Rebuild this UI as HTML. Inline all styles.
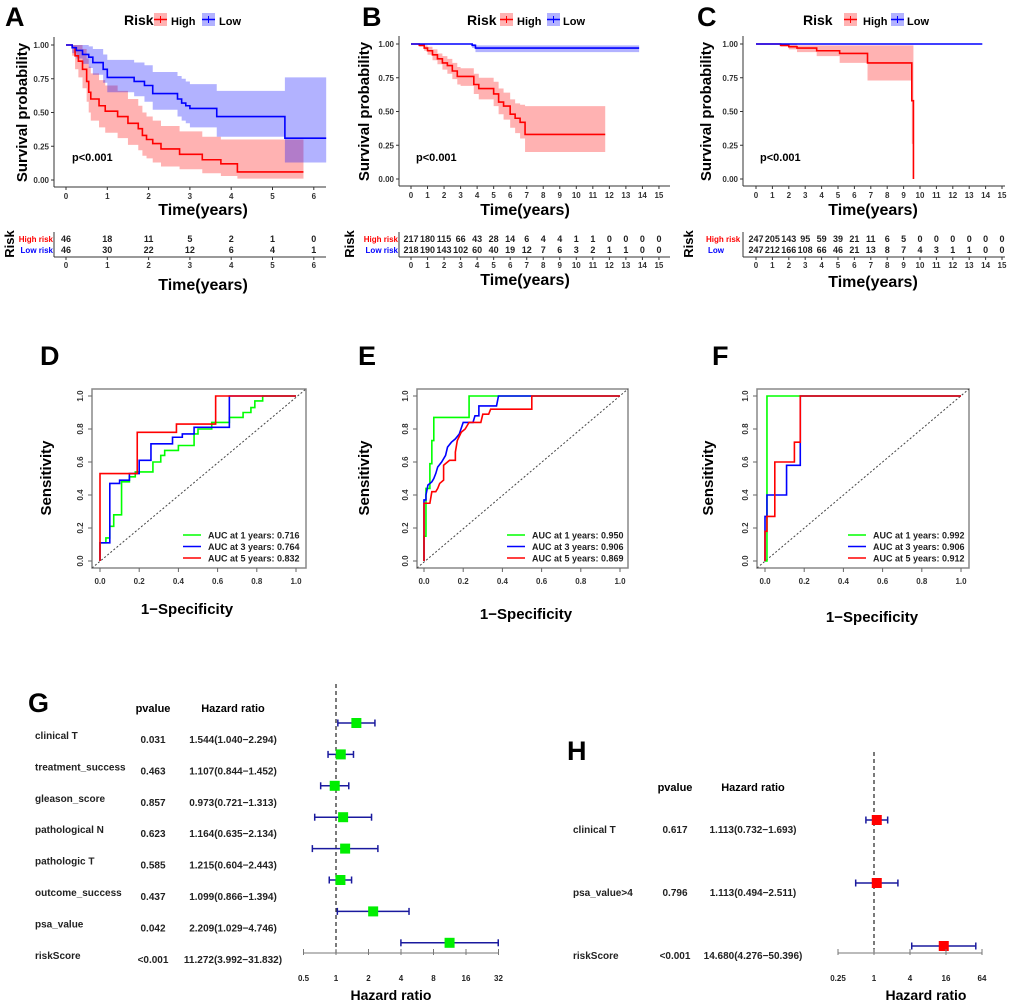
<!DOCTYPE html>
<html><head><meta charset="utf-8"><style>
html,body{margin:0;padding:0;background:#fff;width:1020px;height:1004px;overflow:hidden}
svg text{font-family:"Liberation Sans",Arial,sans-serif;font-weight:bold}
</style></head><body>
<svg id="fig" width="1020" height="1004" viewBox="0 0 1020 1004" xmlns="http://www.w3.org/2000/svg"></svg>
<script>
// ---------- KM data ----------
const aHighT=[0,0.15,0.22,0.3,0.4,0.5,0.55,0.6,0.8,0.95,1.25,1.5,1.75,1.85,1.95,2.1,2.3,2.5,2.75,3.3,3.75,4.15,5.75];
const aHighS=[1,0.98,0.92,0.88,0.82,0.73,0.65,0.60,0.55,0.51,0.47,0.42,0.38,0.33,0.30,0.27,0.23,0.23,0.19,0.15,0.12,0.06,0.06];
const aHighLo=[1,0.92,0.82,0.76,0.68,0.58,0.50,0.44,0.39,0.35,0.31,0.26,0.22,0.18,0.16,0.13,0.10,0.10,0.08,0.05,0.03,0.01,0.01];
const aHighHi=[1,1,1,1,0.97,0.90,0.84,0.79,0.74,0.70,0.66,0.60,0.55,0.50,0.47,0.44,0.40,0.40,0.36,0.32,0.30,0.30,0.30];
const aLowT=[0,0.15,0.25,0.4,0.55,0.65,0.9,1.0,1.65,1.9,2.1,2.7,2.8,2.9,3.0,3.65,5.3,6.3];
const aLowS=[1,0.98,0.96,0.93,0.91,0.87,0.82,0.76,0.73,0.70,0.64,0.60,0.57,0.55,0.53,0.47,0.31,0.31];
const aLowLo=[1,0.94,0.90,0.86,0.83,0.78,0.72,0.65,0.62,0.58,0.52,0.47,0.44,0.42,0.39,0.32,0.13,0.13];
const aLowHi=[1,1,1,1,0.99,0.97,0.93,0.89,0.87,0.85,0.80,0.77,0.75,0.73,0.71,0.66,0.76,0.76];
const bHighT=[0,0.5,0.8,1.0,1.3,1.6,1.9,2.2,2.5,2.8,3.0,3.8,4.1,5.0,5.3,5.6,6.0,6.3,6.6,6.9,11.75];
const bHighS=[1,0.99,0.97,0.95,0.92,0.89,0.86,0.84,0.80,0.76,0.76,0.70,0.67,0.63,0.57,0.54,0.48,0.45,0.42,0.33,0.33];
const bHighLo=[1,0.98,0.95,0.92,0.88,0.85,0.81,0.78,0.74,0.70,0.69,0.63,0.59,0.54,0.48,0.44,0.38,0.34,0.30,0.20,0.20];
const bHighHi=[1,1,0.99,0.98,0.96,0.93,0.91,0.89,0.86,0.83,0.82,0.78,0.75,0.72,0.67,0.64,0.59,0.56,0.55,0.54,0.54];
const bLowT=[0,3.7,3.9,13.8];
const bLowS=[1,0.99,0.97,0.97];
const bLowLo=[1,0.97,0.94,0.94];
const bLowHi=[1,1,0.99,0.99];
const cHighT=[0,1.5,2.0,2.5,3.7,5.1,6.8,9.5,9.6];
const cHighS=[1,0.99,0.98,0.97,0.95,0.93,0.86,0.58,0];
const cHighLo=[1,0.98,0.96,0.94,0.91,0.86,0.73,0.26,0];
const cHighHi=[1,1,1,0.99,0.99,0.99,0.99,0.99,0];
const cLowT=[0,13.8];
const cLowS=[1,1];
const cLowLo=[1,1];
const cLowHi=[1,1];
const aRiskHigh=[46,18,11,5,2,1,0];
const aRiskLow=[46,30,22,12,6,4,1];
const bRiskHigh=[217,180,115,66,43,28,14,6,4,4,1,1,0,0,0,0];
const bRiskLow=[218,190,143,102,60,40,19,12,7,6,3,2,1,1,0,0];
const cRiskHigh=[247,205,143,95,59,39,21,11,6,5,0,0,0,0,0,0];
const cRiskLow=[247,212,166,108,66,46,21,13,8,7,4,3,1,1,0,0];
const survTicks=[0,0.25,0.5,0.75,1];
const survTickLabels=["0.00","0.25","0.50","0.75","1.00"];
// ---------- ROC data ----------
const dGreen=[[0,0],[0,0.11],[0.03,0.11],[0.03,0.14],[0.05,0.14],[0.05,0.21],[0.07,0.21],[0.07,0.28],[0.11,0.28],[0.11,0.48],[0.15,0.48],[0.15,0.51],[0.18,0.51],[0.18,0.54],[0.27,0.54],[0.27,0.60],[0.31,0.60],[0.31,0.64],[0.33,0.64],[0.33,0.67],[0.40,0.67],[0.40,0.70],[0.48,0.70],[0.48,0.77],[0.50,0.77],[0.50,0.80],[0.57,0.80],[0.57,0.84],[0.66,0.84],[0.66,0.87],[0.73,0.87],[0.73,0.90],[0.77,0.90],[0.77,0.93],[0.79,0.93],[0.79,0.97],[0.83,0.97],[0.83,1],[1,1]];
const dBlue=[[0,0],[0,0.11],[0.05,0.11],[0.05,0.47],[0.10,0.47],[0.10,0.49],[0.15,0.49],[0.15,0.53],[0.20,0.53],[0.20,0.61],[0.26,0.61],[0.26,0.71],[0.37,0.71],[0.37,0.75],[0.42,0.75],[0.42,0.77],[0.48,0.77],[0.48,0.81],[0.66,0.81],[0.66,1],[1,1]];
const dRed=[[0,0],[0,0.53],[0.19,0.53],[0.19,0.78],[0.39,0.78],[0.39,0.83],[0.59,0.83],[0.59,1],[1,1]];
const eGreen=[[0,0],[0,0.15],[0.01,0.15],[0.01,0.44],[0.03,0.44],[0.03,0.59],[0.04,0.59],[0.04,0.73],[0.05,0.73],[0.05,0.87],[0.23,0.87],[0.23,1],[1,1]];
const eBlue=[[0,0],[0,0.37],[0.01,0.37],[0.01,0.40],[0.02,0.46],[0.04,0.48],[0.05,0.50],[0.06,0.53],[0.07,0.57],[0.09,0.60],[0.11,0.64],[0.12,0.69],[0.14,0.72],[0.16,0.74],[0.18,0.77],[0.20,0.84],[0.25,0.84],[0.26,0.88],[0.28,0.88],[0.28,0.94],[0.37,0.94],[0.38,1],[1,1]];
const eRed=[[0,0],[0,0.35],[0.03,0.35],[0.04,0.42],[0.06,0.42],[0.07,0.44],[0.08,0.47],[0.10,0.49],[0.10,0.58],[0.13,0.61],[0.16,0.61],[0.16,0.66],[0.17,0.73],[0.19,0.78],[0.21,0.80],[0.23,0.84],[0.29,0.84],[0.30,0.89],[0.33,0.89],[0.34,0.92],[0.55,0.92],[0.55,1],[1,1]];
const fGreen=[[0,0],[0.01,0],[0.01,1],[1,1]];
const fBlue=[[0,0],[0,0.27],[0.01,0.27],[0.01,0.40],[0.11,0.40],[0.11,0.58],[0.18,0.58],[0.18,1],[1,1]];
const fRed=[[0,0],[0,0.18],[0.01,0.18],[0.01,0.27],[0.05,0.27],[0.05,0.60],[0.15,0.60],[0.15,0.72],[0.18,0.72],[0.18,1],[1,1]];
const dAuc=["AUC at 1 years: 0.716","AUC at 3 years: 0.764","AUC at 5 years: 0.832"];
const eAuc=["AUC at 1 years: 0.950","AUC at 3 years: 0.906","AUC at 5 years: 0.869"];
const fAuc=["AUC at 1 years: 0.992","AUC at 3 years: 0.906","AUC at 5 years: 0.912"];
const rocTicks=[0,0.2,0.4,0.6,0.8,1];
const rocTickLabels=["0.0","0.2","0.4","0.6","0.8","1.0"];
// ---------- Forest data ----------
const gNames=["clinical T","treatment_success","gleason_score","pathological N","pathologic T","outcome_success","psa_value","riskScore"];
const gP=["0.031","0.463","0.857","0.623","0.585","0.437","0.042","<0.001"];
const gHrText=["1.544(1.040\u22122.294)","1.107(0.844\u22121.452)","0.973(0.721\u22121.313)","1.164(0.635\u22122.134)","1.215(0.604\u22122.443)","1.099(0.866\u22121.394)","2.209(1.029\u22124.746)","11.272(3.992\u221231.832)"];
const gHr=[1.544,1.107,0.973,1.164,1.215,1.099,2.209,11.272];
const gLo=[1.040,0.844,0.721,0.635,0.604,0.866,1.029,3.992];
const gHi=[2.294,1.452,1.313,2.134,2.443,1.394,4.746,31.832];
const gTicks=[0.5,1,2,4,8,16,32];
const hNames=["clinical T","psa_value>4","riskScore"];
const hP=["0.617","0.796","<0.001"];
const hHrText=["1.113(0.732\u22121.693)","1.113(0.494\u22122.511)","14.680(4.276\u221250.396)"];
const hHr=[1.113,1.113,14.680];
const hLo=[0.732,0.494,4.276];
const hHi=[1.693,2.511,50.396];
const hTicks=[0.25,1,4,16,64];

const svg=document.getElementById('fig');
const NS="http://www.w3.org/2000/svg";
function mk(tag,attrs,parent){const e=document.createElementNS(NS,tag);for(const k in attrs)e.setAttribute(k,attrs[k]);(parent||svg).appendChild(e);return e;}
function txt(s,x,y,size,attrs,parent){const e=mk('text',Object.assign({x:x,y:y,'font-size':size},attrs||{}),parent);e.textContent=s;return e;}

// ---------- KM panel ----------
function km(cfg){
  const g=mk('g',{});
  
  
  const X=t=>cfg.x0+(t-0)*cfg.px;
  const Y=s=>cfg.y0+(1-s)*(cfg.y1-cfg.y0);
  const L=txt(cfg.letter,cfg.lx,26,27,{},g);
  
  function band(T,lo,hi,fill,nm){
    let up=[],dn=[];
    for(let i=0;i<T.length;i++){const t1=(i<T.length-1)?T[i+1]:T[i];up.push([X(T[i]),Y(hi[i])],[X(t1),Y(hi[i])]);dn.push([X(T[i]),Y(lo[i])],[X(t1),Y(lo[i])]);}
    const pts=up.concat(dn.reverse()).map(p=>p.join(',')).join(' ');
    const e=mk('polygon',{points:pts,fill:fill,'fill-opacity':0.3,stroke:'none'},g);
    
  }
  function line(T,S,col,nm){
    let d='M'+X(T[0])+','+Y(S[0]);
    for(let i=1;i<T.length;i++){d+=' H'+X(T[i])+' V'+Y(S[i]);}
    const e=mk('path',{d:d,fill:'none',stroke:col,'stroke-width':1.6},g);
    
  }
  band(cfg.hT,cfg.hLo,cfg.hHi,'#ff0000','high-risk-ci');
  band(cfg.lT,cfg.lLo,cfg.lHi,'#0000ff','low-risk-ci');
  line(cfg.hT,cfg.hS,'#ff0000','high-risk-curve');
  line(cfg.lT,cfg.lS,'#0000ff','low-risk-curve');
  // axes
  mk('line',{x1:cfg.ax,y1:cfg.y0-8,x2:cfg.ax,y2:cfg.axY,stroke:'#333','stroke-width':1},g);
  mk('line',{x1:cfg.ax,y1:cfg.axY,x2:cfg.xr,y2:cfg.axY,stroke:'#333','stroke-width':1},g);
  survTicks.forEach((v,i)=>{
    mk('line',{x1:cfg.ax-3,y1:Y(v),x2:cfg.ax,y2:Y(v),stroke:'#333'},g);
    const t=txt(survTickLabels[i],cfg.ax-5,Y(v)+3,8,{'text-anchor':'end',fill:'#333'},g);
    
  });
  for(let k=0;k<=cfg.tmax;k++){
    mk('line',{x1:X(k),y1:cfg.axY,x2:X(k),y2:cfg.axY+3,stroke:'#333'},g);
    const t=txt(String(k),X(k),cfg.axY+12,8,{'text-anchor':'middle',fill:'#333'},g);
    
  }
  const yl=txt('Survival probability',0,0,15,{'text-anchor':'middle',transform:`translate(${cfg.ylx},${(cfg.y0+cfg.y1)/2}) rotate(-90)`},g);
  
  const xl=txt('Time(years)',cfg.tlx,215,16,{'text-anchor':'middle'},g);
  
  const pv=txt('p<0.001',cfg.px0,161,11,{},g);
  
  // legend
  const lg=mk('g',{},g);
  
  txt('Risk',cfg.leg[0],25,14,{},lg);
  [[cfg.leg[1],'#ff0000','High',cfg.leg[2]],[cfg.leg[3],'#0000ff','Low',cfg.leg[4]]].forEach(a=>{
    const e=mk('g',{},lg);
    
    mk('rect',{x:a[0],y:13,width:13,height:13,fill:a[1],'fill-opacity':0.3},e);
    mk('line',{x1:a[0],y1:19.5,x2:a[0]+13,y2:19.5,stroke:a[1],'stroke-width':1.5},e);
    mk('line',{x1:a[0]+6.5,y1:16,x2:a[0]+6.5,y2:23,stroke:a[1],'stroke-width':1},e);
    txt(a[2],a[3],25,11,{},e);
  });
  // risk table
  const tb=mk('g',{},g);
  
  cfg.rH.forEach((v,k)=>txt(String(v),X(k),242,9,{'text-anchor':'middle',fill:'#222'},tb));
  cfg.rL.forEach((v,k)=>txt(String(v),X(k),253,9,{'text-anchor':'middle',fill:'#222'},tb));
  txt(cfg.hl,cfg.rlx,242,8,{'text-anchor':cfg.rla,fill:'#ff0000'},tb);
  txt(cfg.ll,cfg.rlx2,253,8,{'text-anchor':cfg.rla,fill:'#0000ff'},tb);
  mk('line',{x1:cfg.ax,y1:232,x2:cfg.ax,y2:257,stroke:'#333'},tb);
  mk('line',{x1:cfg.ax,y1:257,x2:cfg.xr,y2:257,stroke:'#333'},tb);
  for(let k=0;k<=cfg.tmax;k++){mk('line',{x1:X(k),y1:257,x2:X(k),y2:260,stroke:'#333'},tb);txt(String(k),X(k),268,8,{'text-anchor':'middle',fill:'#333'},tb);}
  txt('Risk',0,0,13,{'text-anchor':'middle',transform:`translate(${cfg.rkx},244) rotate(-90)`},tb);
  txt('Time(years)',cfg.tlx,cfg.t2y,16,{'text-anchor':'middle'},tb);
}
km({name:'panel-a-km',letter:'A',lx:5,x0:66,px:41.3,tmax:6,y0:45,y1:180,ax:54,axY:187,xr:326,ylx:27,tlx:203,px0:72,
  leg:[124,154,171,202,219],hT:aHighT,hS:aHighS,hLo:aHighLo,hHi:aHighHi,lT:aLowT,lS:aLowS,lLo:aLowLo,lHi:aLowHi,
  rH:aRiskHigh,rL:aRiskLow,hl:'High risk',ll:'Low risk',rlx:53,rlx2:53,rla:'end',rkx:14,t2y:290});
km({name:'panel-b-km',letter:'B',lx:362,x0:411,px:16.53,tmax:15,y0:44,y1:179,ax:399,axY:186,xr:670,ylx:369,tlx:525,px0:416,
  leg:[467,500,517,547,563],hT:bHighT,hS:bHighS,hLo:bHighLo,hHi:bHighHi,lT:bLowT,lS:bLowS,lLo:bLowLo,lHi:bLowHi,
  rH:bRiskHigh,rL:bRiskLow,hl:'High risk',ll:'Low risk',rlx:398,rlx2:398,rla:'end',rkx:354,t2y:285});
km({name:'panel-c-km',letter:'C',lx:697,x0:756,px:16.4,tmax:15,y0:44,y1:179,ax:743,axY:186,xr:1005,ylx:711,tlx:873,px0:760,
  leg:[803,844,863,891,907],hT:cHighT,hS:cHighS,hLo:cHighLo,hHi:cHighHi,lT:cLowT,lS:cLowS,lLo:cLowLo,lHi:cLowHi,
  rH:cRiskHigh,rL:cRiskLow,hl:'High risk',ll:'Low',rlx:706,rlx2:708,rla:'start',rkx:693,t2y:287});

// ---------- ROC panel ----------
function roc(cfg){
  const g=mk('g',{});
  
  
  const X=v=>cfg.x0+v*(cfg.x1-cfg.x0), Y=v=>561-v*165;
  const L=txt(cfg.letter,cfg.lx,365,27,{},g);
  
  const b=mk('rect',{x:cfg.bx0,y:389,width:cfg.bx1-cfg.bx0,height:179,fill:'none',stroke:'#888','stroke-width':1.5},g);
  
  const dg=mk('line',{x1:cfg.bx0,y1:568,x2:cfg.bx1,y2:389,stroke:'#444','stroke-width':1,'stroke-dasharray':'2,2'},g);
  
  rocTicks.forEach((v,i)=>{
    mk('line',{x1:X(v),y1:568,x2:X(v),y2:572,stroke:'#666'},g);
    txt(rocTickLabels[i],X(v),584,8,{'text-anchor':'middle',fill:'#333'},g);
    mk('line',{x1:cfg.bx0-4,y1:Y(v),x2:cfg.bx0,y2:Y(v),stroke:'#666'},g);
    txt(rocTickLabels[i],0,0,8,{'text-anchor':'middle',fill:'#333',transform:`translate(${cfg.bx0-9},${Y(v)}) rotate(-90)`},g);
  });
  const cols=['#00ff00','#0000ff','#ff0000'];
  [cfg.g,cfg.b,cfg.r].forEach((pts,i)=>{
    const e=mk('polyline',{points:pts.map(p=>X(p[0])+','+Y(p[1])).join(' '),fill:'none',stroke:cols[i],'stroke-width':1.6},g);
    
    
  });
  const lg=mk('g',{},g);
  
  cfg.auc.forEach((s,i)=>{
    const y=535+i*11.5;
    mk('line',{x1:cfg.legx,y1:y,x2:cfg.legx+18,y2:y,stroke:cols[i],'stroke-width':1.5},lg);
    txt(s,cfg.legx+25,y+3.5,9,{fill:'#222'},lg);
  });
  const yl=txt('Sensitivity',0,0,15,{'text-anchor':'middle',transform:`translate(${cfg.slx},478) rotate(-90)`},g);
  
  const xl=txt('1\u2212Specificity',cfg.sxc,cfg.sxy,15,{'text-anchor':'middle'},g);
  
}
roc({name:'panel-d-roc',letter:'D',lx:40,x0:100,x1:296,bx0:92,bx1:306,legx:183,auc:dAuc,g:dGreen,b:dBlue,r:dRed,slx:51,sxc:187,sxy:614});
roc({name:'panel-e-roc',letter:'E',lx:358,x0:424,x1:620,bx0:417,bx1:628,legx:507,auc:eAuc,g:eGreen,b:eBlue,r:eRed,slx:369,sxc:526,sxy:619});
roc({name:'panel-f-roc',letter:'F',lx:712,x0:765,x1:961,bx0:757,bx1:969,legx:848,auc:fAuc,g:fGreen,b:fBlue,r:fRed,slx:713,sxc:872,sxy:622});

// ---------- Forest plots ----------
function forest(cfg){
  const g=mk('g',{});
  
  
  const X=v=>cfg.x1+Math.log2(v)*cfg.pd;
  const L=txt(cfg.letter,cfg.lx,cfg.ly,27,{},g);
  
  const h1=txt('pvalue',cfg.pc,cfg.hy,11,{'text-anchor':'middle'},g);
  
  const h2=txt('Hazard ratio',cfg.hc,cfg.hy,11,{'text-anchor':'middle'},g);
  
  const dl=mk('line',{x1:X(1),y1:cfg.dTop,x2:X(1),y2:953,stroke:'#222','stroke-width':1.2,'stroke-dasharray':'4,3'},g);
  
  cfg.names.forEach((n,i)=>{
    const ry=cfg.r0+i*cfg.rs;
    const row=mk('g',{},g);
    
    
    txt(n,cfg.nx,ry+cfg.nOff,10,{fill:'#222'},row);
    txt(cfg.p[i],cfg.pc,ry+cfg.pOff,10,{'text-anchor':'middle',fill:'#222'},row);
    txt(cfg.hrt[i],cfg.hc,ry+cfg.pOff,10,{'text-anchor':'middle',fill:'#222'},row);
    mk('line',{x1:X(cfg.lo[i]),y1:ry,x2:X(cfg.hi[i]),y2:ry,stroke:'#1a1a9e','stroke-width':1.5},row);
    mk('line',{x1:X(cfg.lo[i]),y1:ry-3.5,x2:X(cfg.lo[i]),y2:ry+3.5,stroke:'#1a1a9e','stroke-width':1.5},row);
    mk('line',{x1:X(cfg.hi[i]),y1:ry-3.5,x2:X(cfg.hi[i]),y2:ry+3.5,stroke:'#1a1a9e','stroke-width':1.5},row);
    mk('rect',{x:X(cfg.hr[i])-5,y:ry-5,width:10,height:10,fill:cfg.col},row);
  });
  const ax=mk('g',{},g);
  
  mk('line',{x1:X(cfg.ticks[0]),y1:953,x2:X(cfg.ticks[cfg.ticks.length-1]),y2:953,stroke:'#777','stroke-width':1},ax);
  cfg.ticks.forEach(v=>{mk('line',{x1:X(v),y1:949,x2:X(v),y2:955,stroke:'#777'},ax);txt(String(v),X(v),981,8,{'text-anchor':'middle',fill:'#222'},ax);});
  const xl=txt('Hazard ratio',cfg.xlc,1000,14,{'text-anchor':'middle'},g);
  
}
forest({name:'panel-g-forest',letter:'G',lx:28,ly:712,pc:153,hc:233,hy:712,dTop:684,x1:336,pd:32.5,names:gNames,p:gP,hrt:gHrText,hr:gHr,lo:gLo,hi:gHi,
  ticks:gTicks,r0:723,rs:31.4,nx:35,nOff:16,pOff:20,col:'#00ee00',xlc:391});
forest({name:'panel-h-forest',letter:'H',lx:567,ly:760,pc:675,hc:753,hy:791,dTop:752,x1:874,pd:18,names:hNames,p:hP,hrt:hHrText,hr:hHr,lo:hLo,hi:hHi,
  ticks:hTicks,r0:820,rs:63,nx:573,nOff:13,pOff:13,col:'#ff0000',xlc:926});
</script>
</body></html>
